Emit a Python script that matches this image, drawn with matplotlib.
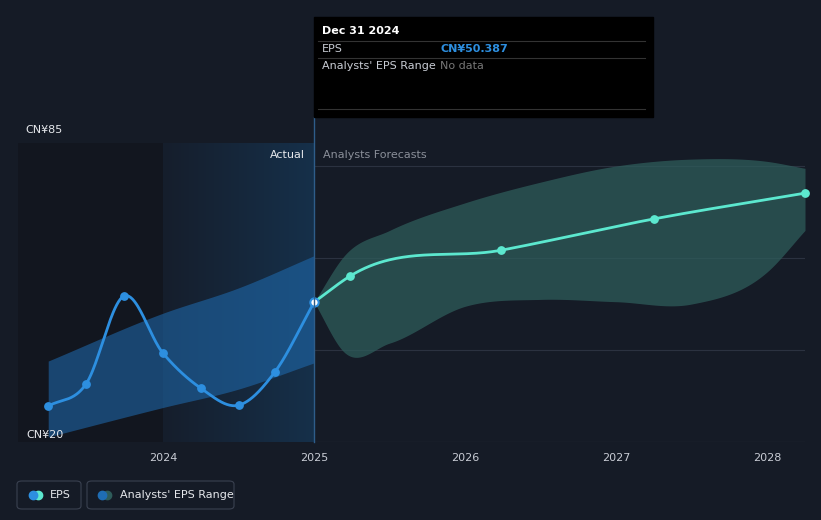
import matplotlib.pyplot as plt
import numpy as np
from matplotlib.patches import FancyBboxPatch

# EPS history (actual)
eps_x = [2023.24, 2023.49, 2023.74, 2024.0, 2024.25, 2024.5, 2024.74, 2025.0]
eps_y = [27.8, 32.6, 51.7, 39.3, 31.7, 28.0, 35.2, 50.4]
# EPS forecast
fc_x = [2025.0, 2025.24, 2026.24, 2027.25, 2028.25]
fc_y = [50.4, 56.1, 61.7, 68.5, 74.1]
# analysts' forecast range
rng_x = [2025.0, 2025.2, 2025.5, 2026.0, 2026.5, 2027.0, 2027.5, 2028.0, 2028.25]
rng_hi = [50.4, 60.5, 66.0, 72.0, 76.5, 80.0, 81.5, 81.0, 79.5]
rng_lo = [50.4, 39.5, 41.5, 49.5, 51.0, 50.5, 50.0, 57.0, 66.0]
# range band on history
band_x = [2023.24, 2024.0, 2024.5, 2025.0]
band_hi = [37.6, 48.0, 53.5, 60.5]
band_lo = [21.1, 27.5, 31.5, 37.2]

bg = '#151b26'
fig = plt.figure(figsize=(8.21, 5.20), dpi=100, facecolor=bg)
ax = fig.add_axes([18/821, 1-442/520, (805-18)/821, (442-143)/520])
ax.set_facecolor(bg)
ax.set_xlim(2023.04, 2028.25)
ax.set_ylim(20, 85)

for g in [40, 60, 80]:
    ax.axhline(g, color='#2b3240', lw=0.8, zorder=0)
ax.axhline(20, color='#3a4150', lw=0.8, zorder=0)

ax.axvspan(2023.04, 2024.0, color='#12161f', zorder=0)
# gradient for actual period
grad = np.linspace(0, 1, 100).reshape(1, -1)
ax.imshow(grad, extent=[2024.0, 2025.0, 20, 85], aspect='auto', cmap=plt.matplotlib.colors.LinearSegmentedColormap.from_list('g', ['#151e2c', '#16304a']), zorder=0.5)

def smooth(x, y, n=300):
    xs = np.linspace(x[0], x[-1], n)
    x = np.array(x); y = np.array(y)
    m = np.gradient(y, x)
    ys = np.empty_like(xs)
    for i, xv in enumerate(xs):
        k = min(np.searchsorted(x, xv, side='right') - 1, len(x) - 2)
        h = x[k+1] - x[k]; t = (xv - x[k]) / h
        h00 = 2*t**3 - 3*t**2 + 1; h10 = t**3 - 2*t**2 + t
        h01 = -2*t**3 + 3*t**2; h11 = t**3 - t**2
        ys[i] = h00*y[k] + h10*h*m[k] + h01*y[k+1] + h11*h*m[k+1]
    return xs, ys

bx, bh = smooth(band_x, band_hi)
_, bl = smooth(band_x, band_lo)
ax.fill_between(bx, bl, bh, color='#1f6db3', alpha=0.55, lw=0, zorder=2)

rx, rh = smooth(rng_x, rng_hi)
_, rl = smooth(rng_x, rng_lo)
ax.fill_between(rx, rl, rh, color='#2e5c5a', alpha=0.75, lw=0, zorder=2)

ex, ey = smooth(eps_x, eps_y)
ax.plot(ex, ey, color='#2d8fe0', lw=2, zorder=3)
ax.scatter(eps_x[:-1], eps_y[:-1], s=28, color='#2d8fe0', zorder=4)
fx, fy = smooth(fc_x, fc_y)
ax.plot(fx, fy, color='#5ce8cf', lw=2, zorder=3)
ax.scatter(fc_x[1:], fc_y[1:], s=28, color='#5ce8cf', zorder=4, clip_on=False)
ax.scatter([eps_x[-1]], [eps_y[-1]], s=36, color='white', edgecolor='#2d8fe0', lw=1.5, zorder=5)

for s in ax.spines.values():
    s.set_visible(False)
ax.set_yticks([])
ax.set_xticks([2024, 2025, 2026, 2027, 2028])
ax.set_xticklabels(['2024', '2025', '2026', '2027', '2028'], color='#c8ccd4', fontsize=8)
ax.tick_params(axis='x', length=0, pad=8)

ax.text(0.011, 20.5, 'CN¥20', color='#e6e8ec', fontsize=8, va='bottom', transform=ax.get_yaxis_transform())
fig.text(25/821, 1-130/520, 'CN¥85', color='#e6e8ec', fontsize=8, va='center')
ax.text(2024.94, 82.3, 'Actual', color='#e6e8ec', fontsize=8, ha='right', va='center')
ax.text(2025.06, 82.3, 'Analysts Forecasts', color='#8a8f99', fontsize=8, ha='left', va='center')

# tooltip
fig.patches.append(plt.Rectangle((314/821, 1-117/520), (653-314)/821, 100/520, transform=fig.transFigure, color='black', zorder=5))
fig.add_artist(plt.Line2D([314/821, 314/821], [1-442/520, 1-117/520], color='#2e5d8a', lw=1))
fig.text(322/821, 1-31/520, 'Dec 31 2024', color='white', fontsize=8, fontweight='bold', va='center', zorder=6)
for yy in [41, 58, 109]:
    fig.add_artist(plt.Line2D([318/821, 645/821], [1-yy/520]*2, color='#333', lw=0.8, zorder=6))
fig.text(322/821, 1-49/520, 'EPS', color='#c8ccd4', fontsize=8, va='center', zorder=6)
fig.text(440/821, 1-49/520, 'CN¥50.387', color='#2d8fe0', fontsize=8, fontweight='bold', va='center', zorder=6)
fig.text(322/821, 1-66/520, "Analysts' EPS Range", color='#c8ccd4', fontsize=8, va='center', zorder=6)
fig.text(440/821, 1-66/520, 'No data', color='#777', fontsize=8, va='center', zorder=6)

# legend
for (x0, w) in [(17, 64), (87, 147)]:
    fig.patches.append(FancyBboxPatch((x0/821, 1-509/520), w/821, 28/520, boxstyle='round,pad=0,rounding_size=0.006',
                                      transform=fig.transFigure, fc=bg, ec='#3a4150', lw=0.8))
for (xd, c) in [(38, '#5ce8cf'), (33, '#2d8fe0'), (107, '#2e5c5a'), (102, '#1f6db3')]:
    fig.add_artist(plt.Line2D([xd/821], [1-495/520], marker='o', ms=6, color=c, lw=0))
fig.text(50/821, 1-495/520, 'EPS', color='#e6e8ec', fontsize=8, va='center')
fig.text(120/821, 1-495/520, "Analysts' EPS Range", color='#e6e8ec', fontsize=8, va='center')

fig.savefig('out.png', dpi=100, facecolor=bg)
